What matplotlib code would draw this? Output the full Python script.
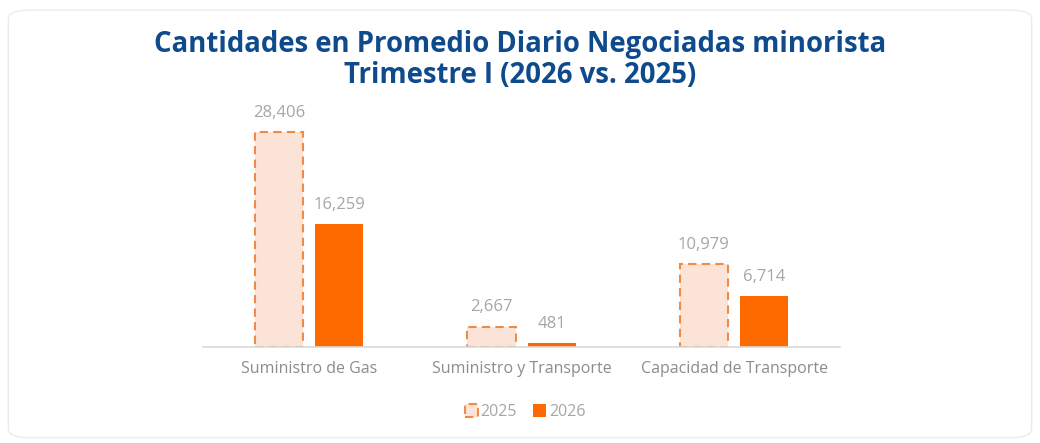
import numpy as np
import matplotlib.pyplot as plt
from matplotlib.patches import FancyBboxPatch

categories = ["Suministro de Gas", "Suministro y Transporte", "Capacidad de Transporte"]
vals_2025 = [28406, 2667, 10979]
vals_2026 = [16259, 481, 6714]

plt.rcParams['font.family'] = ['Open Sans', 'DejaVu Sans']

fig = plt.figure(figsize=(10.4, 4.43), dpi=100)
card = FancyBboxPatch((0.008, 0.012), 0.984, 0.965, boxstyle="round,pad=0,rounding_size=0.02",
                      transform=fig.transFigure, facecolor="white", edgecolor="#EBEBEB",
                      lw=1.0, zorder=-5)
fig.patches.append(card)

ax = fig.add_axes([0.195, 0.217, 0.613, 0.512])
ax.patch.set_alpha(0)
x = np.arange(len(categories))
w = 0.227
off = 0.142
b1 = ax.bar(x - off, vals_2025, w, color="#FBE4D7", edgecolor="#F08A45",
            linestyle=(0, (4, 2.5)), linewidth=1.5, label="2025")
b2 = ax.bar(x + off, vals_2026, w, color="#FF6A00", label="2026")

for bars, vals in ((b1, vals_2025), (b2, vals_2026)):
    for r, v in zip(bars, vals):
        ax.text(r.get_x() + r.get_width() / 2, v + 1500, f"{v:,}", ha="center", va="bottom",
                fontsize=12, color="#A6A6A6")

ax.set_xlim(-0.5, 2.5)
ax.set_ylim(0, 30000)
ax.set_yticks([])
ax.set_xticks(x)
ax.set_xticklabels(categories, fontsize=11.5, color="#8C8C8C")
ax.tick_params(axis="x", length=0, pad=10)
for s in ["top", "right", "left"]:
    ax.spines[s].set_visible(False)
ax.spines["bottom"].set_color("#D9D9D9")
ax.spines["bottom"].set_linewidth(1.2)

fig.text(0.5, 0.865, "Cantidades en Promedio Diario Negociadas minorista\nTrimestre I (2026 vs. 2025)",
         ha="center", va="center", fontsize=19.8, fontweight="bold", color="#0E4A8C",
         linespacing=1.1)

leg = fig.legend(handles=[b1, b2], loc="center", bbox_to_anchor=(0.505, 0.07), ncol=2,
                 frameon=False, fontsize=11.5, handlelength=0.8, handleheight=0.8,
                 handletextpad=0.2, columnspacing=1.0)
for t in leg.get_texts():
    t.set_color("#A6A6A6")

fig.savefig("out.png", dpi=100)
